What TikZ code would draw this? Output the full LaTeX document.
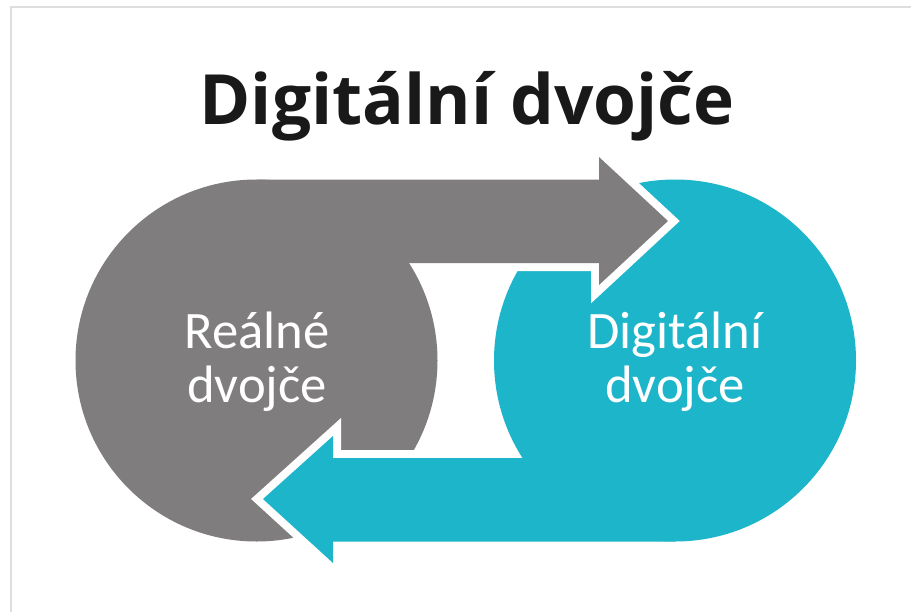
\documentclass[tikz,border=0pt]{standalone}
\usepackage{fontspec}
\setmainfont{Carlito}
\newfontfamily\titlefont{Open Sans}
\definecolor{grayc}{HTML}{7F7D7E}
\definecolor{tealc}{HTML}{1DB5CA}
\definecolor{framec}{HTML}{DEDEDE}
\begin{document}
\begin{tikzpicture}[x=0.75pt,y=-0.75pt,
  graybody/.style={fill=grayc,draw=none},
  tealbody/.style={fill=tealc,draw=none},
  halo/.style={draw=white,fill=white,line width=12pt,miter limit=10,line join=miter},
  lab/.style={text=white,font=\fontsize{39.5pt}{40.5pt}\selectfont,align=center,inner sep=0pt,anchor=base}]
\useasboundingbox (0,0) rectangle (911,611);
\fill[white] (0,0) rectangle (911,611);
\begin{scope}
\clip (0,0) rectangle (911,611);
\draw[framec,line width=2pt] (11,640) -- (11,7) -- (930,7);
\end{scope}
\fill[graybody] (256.5,360.5) circle (181);
\fill[tealbody] (675,360.5) circle (181);
\path[halo] (440,179) -- (599,179) -- (599,157) -- (668,221) -- (599,285) -- (599,263) -- (440,263) -- cycle;
\path[halo] (490,458) -- (333,458) -- (333,436) -- (263,499) -- (333,563) -- (333,541.5) -- (490,541.5) -- cycle;
\path[graybody] (256.5,179.5) -- (599,179.5) -- (599,157) -- (668,221) -- (599,285) -- (599,263) -- (256.5,263) -- cycle;
\path[tealbody] (675,541.5) -- (333,541.5) -- (333,563) -- (263,499) -- (333,436) -- (333,458) -- (675,458) -- cycle;
\node[lab] (real) at (257,402) {Reálné\\dvojče};
\node[lab] (dig) at (675,402) {Digitální\\dvojče};
\node[font=\titlefont\bfseries\fontsize{52pt}{60pt}\selectfont,text=black!90,inner sep=0pt,anchor=base] (title) at (467,124) {Digitální dvojče};
\end{tikzpicture}
\end{document}
